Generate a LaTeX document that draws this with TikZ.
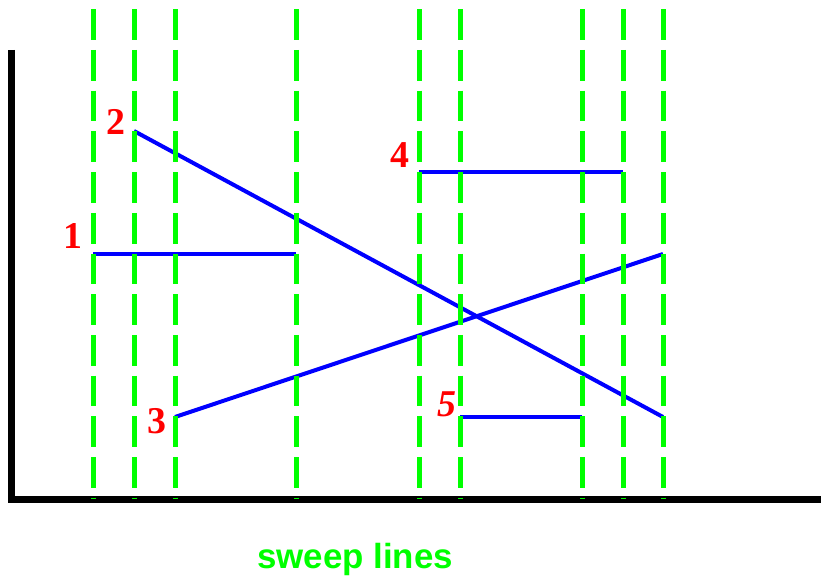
\documentclass[tikz,border=0pt]{standalone}
\usepackage{fontspec}
\setmainfont{Liberation Serif}
\setsansfont{Liberation Sans}
\usepackage{tikz}
\usetikzlibrary{positioning}
\definecolor{SweepGreen}{RGB}{0,255,0}
\definecolor{SegBlue}{RGB}{0,0,255}
\definecolor{LabRed}{RGB}{255,0,0}

\begin{document}
\begin{tikzpicture}[
  x=1bp, y=-1bp,
  axis/.style={line width=7bp, black},
  seg/.style={line width=4bp, SegBlue},
  sweep/.style={line width=5bp, SweepGreen, dash pattern=on 30.7bp off 10bp},
  lab/.style={inner sep=0pt, text=LabRed, font=\fontsize{38}{40}\selectfont\bfseries},
]
\useasboundingbox (0,0) rectangle (821,580);
% axes
\draw[axis] (11,50) -- (11,499) -- (821,499);
% segment end points
\coordinate (s1a) at (93,254);  \coordinate (s1b) at (296,254);
\coordinate (s2a) at (134,131); \coordinate (s2b) at (663,417);
\coordinate (s3a) at (175,417); \coordinate (s3b) at (663,254);
\coordinate (s4a) at (419,172); \coordinate (s4b) at (623,172);
\coordinate (s5a) at (460,417); \coordinate (s5b) at (582,417);
\draw[seg] (s1a) -- (s1b);
\draw[seg] (s2a) -- (s2b);
\draw[seg] (s3a) -- (s3b);
\draw[seg] (s4a) -- (s4b);
\draw[seg] (s5a) -- (s5b);
% labels
\node[lab] (l1) at (72.5,236.5) {1};
\node[lab] (l2) at (116,121.5) {2};
\node[lab] (l3) at (156.5,421) {3};
\node[lab] (l4) at (400,155.5) {4};
\node[lab, font=\fontsize{38}{40}\selectfont\bfseries\itshape] (l5) at (446.5,404) {5};
% sweep lines
\foreach \sx in {93,134,175,296,419,460,582,623,663}
  \draw[sweep] (\sx,9.3) -- (\sx,499);
\node[anchor=base, inner sep=0pt, text=SweepGreen, font=\sffamily\bfseries\fontsize{35}{38}\selectfont] (cap) at (355,568) {sweep lines};
\end{tikzpicture}
\end{document}
